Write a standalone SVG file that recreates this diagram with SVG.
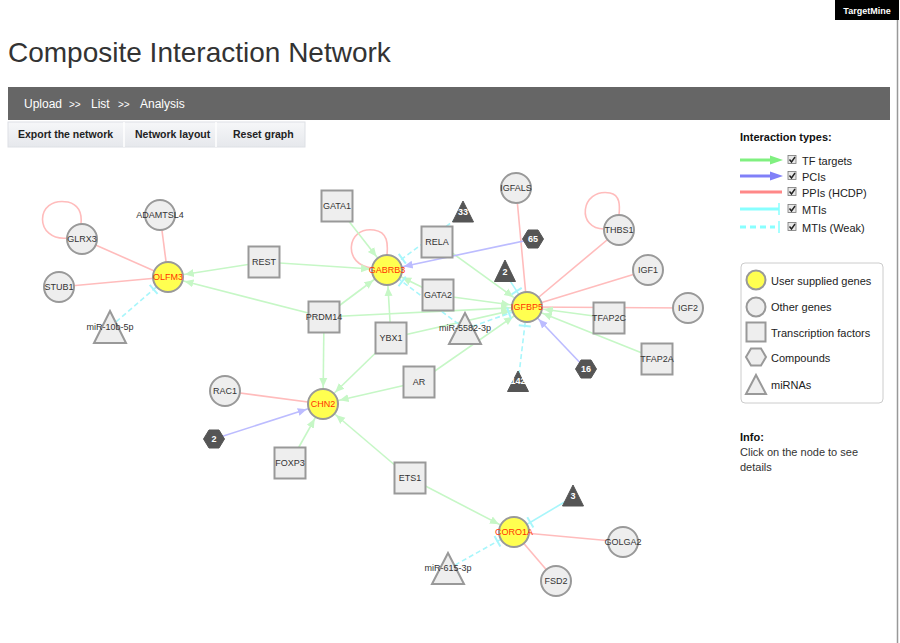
<svg xmlns="http://www.w3.org/2000/svg" width="900" height="643" viewBox="0 0 900 643">
<style>
text{font-family:"Liberation Sans",Arial,sans-serif}
.nl{font-size:9px;fill:#333;text-anchor:middle}
.ul{font-size:9px;fill:#ff3300;text-anchor:middle}
.dl{font-size:9px;fill:#fff;text-anchor:middle;font-weight:bold}
.gn{fill:#eeeeee;stroke:#999;stroke-width:2}
.un{fill:#ffff50;stroke:#999;stroke-width:2}
.dk{fill:#555;stroke:#555;stroke-width:1}
.tf{stroke:#c6f7c6;stroke-width:1.6;fill:none}
.pc{stroke:#bcbcff;stroke-width:1.6;fill:none}
.pp{stroke:#ffbcbc;stroke-width:1.6;fill:none}
.mt{stroke:#a8f6fb;stroke-width:1.6;fill:none}
.mw{stroke:#a8f6fb;stroke-width:1.6;fill:none;stroke-dasharray:5,3}
.lg{font-size:11px;fill:#222}
.btn{font-size:10.5px;font-weight:bold;fill:#222}
</style>
<defs>
<marker id="ag" markerUnits="userSpaceOnUse" viewBox="0 0 30 12" markerWidth="30" markerHeight="12" refX="26" refY="6" orient="auto"><path d="M0,2 L9,6 L0,10 z" fill="#c6f7c6"/></marker>
<marker id="ab" markerUnits="userSpaceOnUse" viewBox="0 0 30 12" markerWidth="30" markerHeight="12" refX="26" refY="6" orient="auto"><path d="M0,2 L9,6 L0,10 z" fill="#bcbcff"/></marker>
<marker id="tc" markerUnits="userSpaceOnUse" viewBox="0 0 30 14" markerWidth="30" markerHeight="14" refX="25" refY="7" orient="auto"><path d="M6,1 L6,13" stroke="#a8f6fb" stroke-width="2"/></marker>
<linearGradient id="bg" x1="0" y1="0" x2="0" y2="1"><stop offset="0" stop-color="#f6f7f9"/><stop offset="1" stop-color="#e6e8ec"/></linearGradient>
</defs>
<rect width="900" height="643" fill="#fff"/>
<!-- page chrome -->
<rect x="835" y="0" width="64" height="20" fill="#000"/>
<text x="867" y="14" font-size="9" font-weight="bold" fill="#fff" text-anchor="middle">TargetMine</text>
<line x1="897.5" y1="20" x2="897.5" y2="643" stroke="#999" stroke-width="1.5"/>
<text x="8" y="62" font-size="28" fill="#333">Composite Interaction Network</text>
<rect x="8" y="87" width="882" height="33" fill="#666"/>
<g font-size="12" fill="#fff">
<text x="24" y="108">Upload</text><text x="69" y="108" font-size="10">&gt;&gt;</text>
<text x="91" y="108">List</text><text x="118" y="108" font-size="10">&gt;&gt;</text>
<text x="140" y="108">Analysis</text></g>
<rect x="8" y="122" width="297" height="25" fill="url(#bg)" stroke="#dde0e5"/>
<line x1="124" y1="122" x2="124" y2="147" stroke="#fff" stroke-width="1.5"/>
<line x1="216" y1="122" x2="216" y2="147" stroke="#fff" stroke-width="1.5"/>
<text class="btn" x="18" y="138">Export the network</text>
<text class="btn" x="135" y="138">Network layout</text>
<text class="btn" x="233" y="138">Reset graph</text>

<!-- legend -->
<g id="legend-interactions">
<text x="740" y="141" font-size="11" font-weight="bold" fill="#111">Interaction types:</text>
<line x1="740" y1="160" x2="772" y2="160" stroke="#80f080" stroke-width="3"/><path d="M770,155.5 L783,160 L770,164.5 z" fill="#80f080"/>
<line x1="740" y1="176" x2="772" y2="176" stroke="#8080f8" stroke-width="3"/><path d="M770,171.5 L783,176 L770,180.5 z" fill="#8080f8"/>
<line x1="740" y1="192" x2="782" y2="192" stroke="#ff8888" stroke-width="3"/>
<line x1="740" y1="209" x2="779" y2="209" stroke="#88ffff" stroke-width="3"/><line x1="779" y1="203" x2="779" y2="215" stroke="#88ffff" stroke-width="1.5"/>
<line x1="740" y1="227" x2="775" y2="227" stroke="#88ffff" stroke-width="3" stroke-dasharray="6,4"/><line x1="779" y1="221" x2="779" y2="233" stroke="#88ffff" stroke-width="1.5"/>
<g fill="#e8e8e8" stroke="#777" stroke-width="0.8">
<rect x="788" y="155.5" width="8" height="8"/><rect x="788" y="171.5" width="8" height="8"/><rect x="788" y="187.5" width="8" height="8"/><rect x="788" y="204.5" width="8" height="8"/><rect x="788" y="222.5" width="8" height="8"/></g>
<g fill="none" stroke="#222" stroke-width="1.4">
<path d="M789.5,159.5 L791.5,162 L795,157"/><path d="M789.5,175.5 L791.5,178 L795,173"/><path d="M789.5,191.5 L791.5,194 L795,189"/><path d="M789.5,208.5 L791.5,211 L795,206"/><path d="M789.5,226.5 L791.5,229 L795,224"/></g>
<text class="lg" x="802" y="165">TF targets</text>
<text class="lg" x="802" y="181">PCIs</text>
<text class="lg" x="802" y="197">PPIs (HCDP)</text>
<text class="lg" x="802" y="214">MTIs</text>
<text class="lg" x="802" y="232">MTIs (Weak)</text>
</g>
<g id="legend-nodes">
<rect x="741" y="263" width="142" height="140" rx="4" fill="#fff" stroke="#ccc"/>
<circle cx="756" cy="280" r="9.5" class="un" stroke-width="1.5"/>
<circle cx="756" cy="307" r="9.5" class="gn" stroke-width="1.5"/>
<rect x="746.5" y="322.5" width="19" height="19" class="gn" stroke-width="1.5"/>
<polygon points="746,357 751,348.5 761,348.5 766,357 761,365.5 751,365.5" class="gn" stroke-width="1.5"/>
<polygon points="756,375 766,394 746,394" class="gn" stroke-width="1.5"/>
<text class="lg" x="771" y="285">User supplied genes</text>
<text class="lg" x="771" y="311">Other genes</text>
<text class="lg" x="771" y="337">Transcription factors</text>
<text class="lg" x="771" y="362">Compounds</text>
<text class="lg" x="771" y="389">miRNAs</text>
</g>
<g id="info">
<text x="740" y="441" font-size="11" font-weight="bold" fill="#111">Info:</text>
<text x="740" y="456" font-size="11" fill="#333">Click on the node to see</text>
<text x="740" y="471" font-size="11" fill="#333">details</text>
</g>

<!-- connectors -->
<g id="connectors">
<!-- PPIs -->
<line class="pp" x1="82" y1="239" x2="168" y2="277"/>
<line class="pp" x1="160" y1="215" x2="168" y2="277"/>
<line class="pp" x1="59" y1="287" x2="168" y2="277"/>
<path class="pp" d="M68,238 C34,242 34,196 68,202 C80,205 82,214 81,224"/>
<path class="pp" d="M373,268 C342,266 346,226 374,230 C388,232 388,244 387,255"/>
<path class="pp" d="M605,229 C576,230 580,188 610,193 C620,195 620,205 619,215"/>
<line class="pp" x1="516" y1="188" x2="527" y2="307"/>
<line class="pp" x1="619" y1="230" x2="527" y2="307"/>
<line class="pp" x1="648" y1="270" x2="527" y2="307"/>
<line class="pp" x1="688" y1="308" x2="527" y2="307"/>
<line class="pp" x1="225" y1="391" x2="323" y2="404"/>
<line class="pp" x1="623" y1="542" x2="514" y2="532"/>
<line class="pp" x1="556" y1="581" x2="514" y2="532"/>
<!-- TF targets -->
<line class="tf" x1="264" y1="262" x2="168" y2="277" marker-end="url(#ag)"/>
<line class="tf" x1="324" y1="317" x2="168" y2="277" marker-end="url(#ag)"/>
<line class="tf" x1="264" y1="262" x2="387" y2="270" marker-end="url(#ag)"/>
<line class="tf" x1="337" y1="206" x2="387" y2="270" marker-end="url(#ag)"/>
<line class="tf" x1="324" y1="317" x2="387" y2="270" marker-end="url(#ag)"/>
<line class="tf" x1="391" y1="338" x2="387" y2="270" marker-end="url(#ag)"/>
<line class="tf" x1="438" y1="295" x2="387" y2="270" marker-end="url(#ag)"/>
<line class="tf" x1="437" y1="242" x2="527" y2="307" marker-end="url(#ag)"/>
<line class="tf" x1="438" y1="295" x2="527" y2="307" marker-end="url(#ag)"/>
<line class="tf" x1="324" y1="317" x2="527" y2="307" marker-end="url(#ag)"/>
<line class="tf" x1="391" y1="338" x2="527" y2="307" marker-end="url(#ag)"/>
<line class="tf" x1="419" y1="382" x2="527" y2="307" marker-end="url(#ag)"/>
<line class="tf" x1="609" y1="318" x2="527" y2="307" marker-end="url(#ag)"/>
<line class="tf" x1="657" y1="359" x2="527" y2="307" marker-end="url(#ag)"/>
<line class="tf" x1="324" y1="317" x2="323" y2="404" marker-end="url(#ag)"/>
<line class="tf" x1="391" y1="338" x2="323" y2="404" marker-end="url(#ag)"/>
<line class="tf" x1="419" y1="382" x2="323" y2="404" marker-end="url(#ag)"/>
<line class="tf" x1="290" y1="463" x2="323" y2="404" marker-end="url(#ag)"/>
<line class="tf" x1="410" y1="478" x2="323" y2="404" marker-end="url(#ag)"/>
<line class="tf" x1="410" y1="478" x2="514" y2="532" marker-end="url(#ag)"/>
<!-- PCIs -->
<line class="pc" x1="533" y1="239" x2="387" y2="270" marker-end="url(#ab)"/>
<line class="pc" x1="586" y1="369" x2="527" y2="307" marker-end="url(#ab)"/>
<line class="pc" x1="214" y1="439" x2="323" y2="404" marker-end="url(#ab)"/>
<!-- MTIs -->
<line class="mt" x1="505" y1="273" x2="527" y2="307" marker-end="url(#tc)"/>
<line class="mt" x1="573" y1="497" x2="514" y2="532" marker-end="url(#tc)"/>
<line class="mw" x1="110" y1="327" x2="168" y2="277" marker-end="url(#tc)"/>
<line class="mw" x1="463" y1="214" x2="387" y2="270" marker-end="url(#tc)"/>
<line class="mw" x1="465" y1="329" x2="387" y2="270" marker-end="url(#tc)"/>
<line class="mw" x1="465" y1="329" x2="527" y2="307" marker-end="url(#tc)"/>
<line class="mw" x1="518" y1="383" x2="527" y2="307" marker-end="url(#tc)"/>
<line class="mw" x1="448" y1="569" x2="514" y2="532" marker-end="url(#tc)"/>
</g>

<!-- nodes -->
<g id="n-GLRX3"><circle class="gn" cx="82" cy="239" r="15"/><text class="nl" x="82" y="242">GLRX3</text></g>
<g id="n-ADAMTSL4"><circle class="gn" cx="160" cy="215" r="15"/><text class="nl" x="160" y="218">ADAMTSL4</text></g>
<g id="n-STUB1"><circle class="gn" cx="59" cy="287" r="15"/><text class="nl" x="59" y="290">STUB1</text></g>
<g id="n-OLFM3"><circle class="un" cx="168" cy="277" r="15"/><text class="ul" x="168" y="280">OLFM3</text></g>
<g id="n-miR-10b-5p"><polygon class="gn" points="110,311 126,343 94,343"/><text class="nl" x="110" y="330">miR-10b-5p</text></g>
<g id="n-REST"><rect class="gn" x="248.5" y="246.5" width="31" height="31"/><text class="nl" x="264" y="265">REST</text></g>
<g id="n-GATA1"><rect class="gn" x="321.5" y="190.5" width="31" height="31"/><text class="nl" x="337" y="209">GATA1</text></g>
<g id="n-c33"><polygon class="dk" points="463,201 473.5,222 452.5,222"/><text class="dl" x="463" y="215">33</text></g>
<g id="n-RELA"><rect class="gn" x="421.5" y="226.5" width="31" height="31"/><text class="nl" x="437" y="245">RELA</text></g>
<g id="n-IGFALS"><circle class="gn" cx="516" cy="188" r="15"/><text class="nl" x="516" y="191">IGFALS</text></g>
<g id="n-c65"><polygon class="dk" points="522.5,239 528,230 538,230 543.5,239 538,248 528,248"/><text class="dl" x="533" y="242">65</text></g>
<g id="n-THBS1"><circle class="gn" cx="619" cy="230" r="15"/><text class="nl" x="619" y="233">THBS1</text></g>
<g id="n-IGF1"><circle class="gn" cx="648" cy="270" r="15"/><text class="nl" x="648" y="273">IGF1</text></g>
<g id="n-IGF2"><circle class="gn" cx="688" cy="308" r="15"/><text class="nl" x="688" y="311">IGF2</text></g>
<g id="n-c2t"><polygon class="dk" points="505,260 515.5,281.5 494.5,281.5"/><text class="dl" x="505" y="275">2</text></g>
<g id="n-GABRB3"><circle class="un" cx="387" cy="270" r="15"/><text class="ul" x="387" y="273">GABRB3</text></g>
<g id="n-GATA2"><rect class="gn" x="422.5" y="279.5" width="31" height="31"/><text class="nl" x="438" y="298">GATA2</text></g>
<g id="n-IGFBP5"><circle class="un" cx="527" cy="307" r="15"/><text class="ul" x="527" y="310">IGFBP5</text></g>
<g id="n-TFAP2C"><rect class="gn" x="593.5" y="302.5" width="31" height="31"/><text class="nl" x="609" y="321">TFAP2C</text></g>
<g id="n-TFAP2A"><rect class="gn" x="641.5" y="343.5" width="31" height="31"/><text class="nl" x="657" y="362">TFAP2A</text></g>
<g id="n-c16"><polygon class="dk" points="575.5,369 581,360 591,360 596.5,369 591,378 581,378"/><text class="dl" x="586" y="372">16</text></g>
<g id="n-c142"><polygon class="dk" points="518,371 528.5,391.5 507.5,391.5"/><text class="dl" x="518" y="384">142</text></g>
<g id="n-miR-5582-3p"><polygon class="gn" points="465,313 481,344 449,344"/><text class="nl" x="465" y="331">miR-5582-3p</text></g>
<g id="n-PRDM14"><rect class="gn" x="308.5" y="301.5" width="31" height="31"/><text class="nl" x="324" y="320">PRDM14</text></g>
<g id="n-YBX1"><rect class="gn" x="375.5" y="322.5" width="31" height="31"/><text class="nl" x="391" y="341">YBX1</text></g>
<g id="n-AR"><rect class="gn" x="403.5" y="366.5" width="31" height="31"/><text class="nl" x="419" y="385">AR</text></g>
<g id="n-RAC1"><circle class="gn" cx="225" cy="391" r="15"/><text class="nl" x="225" y="394">RAC1</text></g>
<g id="n-CHN2"><circle class="un" cx="323" cy="404" r="15"/><text class="ul" x="323" y="407">CHN2</text></g>
<g id="n-c2h"><polygon class="dk" points="203.5,439 209,430 219,430 224.5,439 219,448 209,448"/><text class="dl" x="214" y="442">2</text></g>
<g id="n-FOXP3"><rect class="gn" x="274.5" y="447.5" width="31" height="31"/><text class="nl" x="290" y="466">FOXP3</text></g>
<g id="n-ETS1"><rect class="gn" x="394.5" y="462.5" width="31" height="31"/><text class="nl" x="410" y="481">ETS1</text></g>
<g id="n-c3"><polygon class="dk" points="573,485 583.5,506 562.5,506"/><text class="dl" x="573" y="499">3</text></g>
<g id="n-CORO1A"><circle class="un" cx="514" cy="532" r="15"/><text class="ul" x="514" y="535">CORO1A</text></g>
<g id="n-GOLGA2"><circle class="gn" cx="623" cy="542" r="15"/><text class="nl" x="623" y="545">GOLGA2</text></g>
<g id="n-FSD2"><circle class="gn" cx="556" cy="581" r="15"/><text class="nl" x="556" y="584">FSD2</text></g>
<g id="n-miR-615-3p"><polygon class="gn" points="448,553 464,584 432,584"/><text class="nl" x="448" y="571">miR-615-3p</text></g>
</svg>
